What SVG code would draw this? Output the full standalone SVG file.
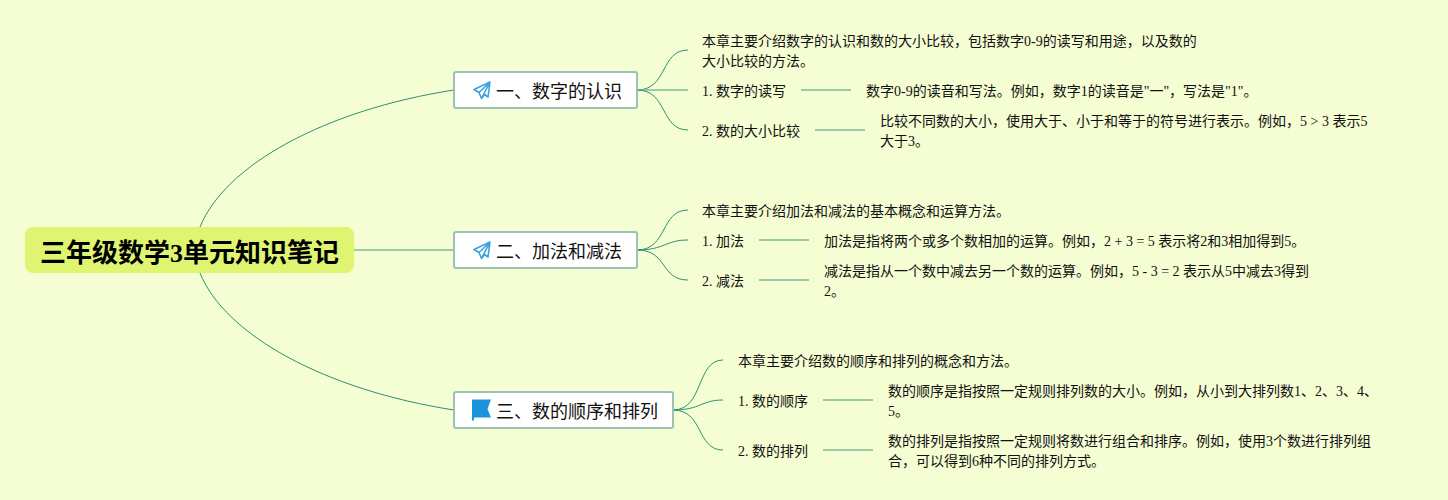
<svg xmlns="http://www.w3.org/2000/svg" width="1448" height="500" viewBox="0 0 1448 500">
<style>
text{font-family:"Liberation Serif","Noto Sans CJK SC",serif;fill:#111}
.t{font-size:14px}
.b{font-size:18px}
.r{font-size:26px;font-weight:700;fill:#000}
.box{fill:#fff;stroke:#9bc2b4;stroke-width:2}
.c{fill:none;stroke:#2f9070;stroke-width:1}
.s{fill:none;stroke:#7fb898;stroke-width:1.500}
</style>
<defs>
<g id="plane"><path d="M17 1L1 8.500L6 11.500L8.500 17.500L11.500 13.500L15 16Z M17 1L6 11.500 M17 1L8.500 17.500" fill="none" stroke="#3aa3de" stroke-width="1.600" stroke-linejoin="round"/></g>
<path id="flag" d="M0 0H19L15.500 9.500L19 18H2V21H0Z" fill="#1b93dc"/>
</defs>
<rect width="1448" height="500" fill="#f5fdd2"/>
<g id="connectors">
<path class="c" d="M200 227C225 165 325 110 454 90"/>
<path class="s" d="M354 250H454"/>
<path class="c" d="M200 273C225 335 325 390 454 410"/>
<path class="c" d="M637 90C668 90 660 50 688 50"/>
<path class="s" d="M637 90H688"/>
<path class="c" d="M637 90C668 90 660 130 688 130"/>
<path class="s" d="M801 90H851"/>
<path class="s" d="M815 130H865"/>
<path class="c" d="M637 250C668 250 660 210 688 210"/>
<path class="c" d="M637 250C665 250 665 240 688 240"/>
<path class="c" d="M637 250C668 250 660 280 688 280"/>
<path class="s" d="M759 240H809"/>
<path class="s" d="M759 280H809"/>
<path class="c" d="M673 410C704 410 696 360 723 360"/>
<path class="c" d="M673 410C701 410 701 400 723 400"/>
<path class="c" d="M673 410C704 410 696 450 723 450"/>
<path class="s" d="M823 400H873"/>
<path class="s" d="M823 450H873"/>
</g>
<g id="root"><rect x="25" y="227" width="329" height="46" rx="8" fill="#dff470"/><text class="r" x="40" y="261.500">三年级数学3单元知识笔记</text></g>
<g id="n1"><rect class="box" x="454" y="72" width="183" height="36" rx="2"/><use href="#plane" x="473" y="81"/><text class="b" x="496" y="98">一、数字的认识</text></g>
<g id="n2"><rect class="box" x="454" y="232" width="183" height="36" rx="2"/><use href="#plane" x="473" y="241"/><text class="b" x="496" y="258">二、加法和减法</text></g>
<g id="n3"><rect class="box" x="454" y="392" width="219" height="36" rx="2"/><use href="#flag" x="472" y="399.500"/><text class="b" x="496" y="418">三、数的顺序和排列</text></g>
<g id="n1-intro"><text class="t" x="702" y="46">本章主要介绍数字的认识和数的大小比较，包括数字0-9的读写和用途，以及数的</text><text class="t" x="702" y="66">大小比较的方法。</text></g>
<g id="n1-1"><text class="t" x="702" y="96">1. 数字的读写</text></g>
<g id="n1-1-d"><text class="t" x="866" y="96">数字0-9的读音和写法。例如，数字1的读音是"一"，写法是"1"。</text></g>
<g id="n1-2"><text class="t" x="702" y="136">2. 数的大小比较</text></g>
<g id="n1-2-d"><text class="t" x="880" y="126">比较不同数的大小，使用大于、小于和等于的符号进行表示。例如，5 &gt; 3 表示5</text><text class="t" x="880" y="146">大于3。</text></g>
<g id="n2-intro"><text class="t" x="702" y="216">本章主要介绍加法和减法的基本概念和运算方法。</text></g>
<g id="n2-1"><text class="t" x="702" y="246">1. 加法</text></g>
<g id="n2-1-d"><text class="t" x="824" y="246">加法是指将两个或多个数相加的运算。例如，2 + 3 = 5 表示将2和3相加得到5。</text></g>
<g id="n2-2"><text class="t" x="702" y="286">2. 减法</text></g>
<g id="n2-2-d"><text class="t" x="824" y="276">减法是指从一个数中减去另一个数的运算。例如，5 - 3 = 2 表示从5中减去3得到</text><text class="t" x="824" y="296">2。</text></g>
<g id="n3-intro"><text class="t" x="738" y="366">本章主要介绍数的顺序和排列的概念和方法。</text></g>
<g id="n3-1"><text class="t" x="738" y="406">1. 数的顺序</text></g>
<g id="n3-1-d"><text class="t" x="888" y="396">数的顺序是指按照一定规则排列数的大小。例如，从小到大排列数1、2、3、4、</text><text class="t" x="888" y="416">5。</text></g>
<g id="n3-2"><text class="t" x="738" y="456">2. 数的排列</text></g>
<g id="n3-2-d"><text class="t" x="888" y="446">数的排列是指按照一定规则将数进行组合和排序。例如，使用3个数进行排列组</text><text class="t" x="888" y="466">合，可以得到6种不同的排列方式。</text></g>
</svg>
